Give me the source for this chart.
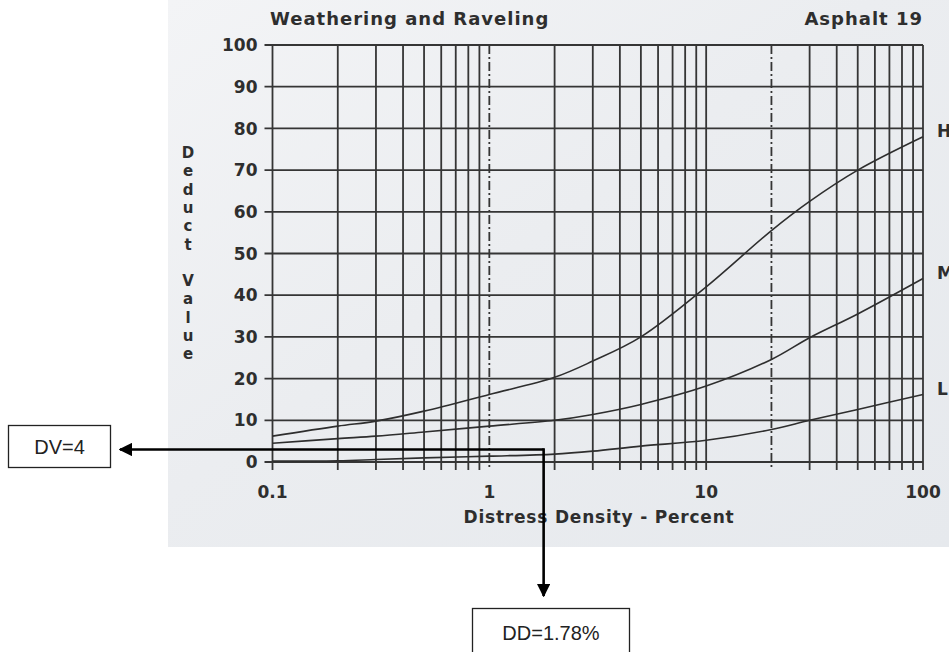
<!DOCTYPE html>
<html>
<head>
<meta charset="utf-8">
<script src="https://cdn.jsdelivr.net/npm/d3@7"></script>
<style>
  body { margin: 0; background: #fff; }
  svg { display: block; }
  .tick-label { font-family: 'DejaVu Sans', sans-serif; font-weight: bold; fill: #2e2e2e; }
</style>
</head>
<body>
<div id="chart"></div>
<script>
// Data
const densities = [0.1, 0.2, 0.3, 0.5, 1, 2, 3, 5, 10, 20, 30, 50, 100]
const highValues = [6.2, 8.6, 9.8, 12.2, 16.2, 20.3, 24.2, 30, 42, 55.5, 62.5, 70, 78]
const mediumValues = [4.5, 5.6, 6.2, 7.2, 8.6, 10, 11.4, 13.8, 18.2, 24.6, 29.8, 35.5, 44]
const lowValues = [0.2, 0.3, 0.6, 1.0, 1.4, 1.9, 2.6, 3.8, 5.2, 7.8, 10, 12.6, 16.2]
const severityLabels = ['H', 'M', 'L']

const xTickValues = [0.1, 1, 10, 100]
const xTickLabels = ['0.1', '1', '10', '100']
const yTickValues = [0, 10, 20, 30, 40, 50, 60, 70, 80, 90, 100]
const dashedDecades = [1, 20]

// annotation
const annotDensity = 1.78
const annotLineValue = 3
const annotDVText = 'DV=4'
const annotDDText = 'DD=1.78%'

const width = 949
const height = 652

const svg = d3
  .select('#chart')
  .append('svg')
  .attr('width', width)
  .attr('height', height)

const defs = svg.append('defs')
const grad = defs
  .append('linearGradient')
  .attr('id', 'paper')
  .attr('x1', 0)
  .attr('y1', 0)
  .attr('x2', 1)
  .attr('y2', 1)
grad.append('stop').attr('offset', '0%').attr('stop-color', '#f3f4f6')
grad.append('stop').attr('offset', '45%').attr('stop-color', '#ebedf0')
grad.append('stop').attr('offset', '100%').attr('stop-color', '#e6e9ed')

defs
  .append('marker')
  .attr('id', 'arrow')
  .attr('viewBox', '0 0 10 10')
  .attr('refX', 9)
  .attr('refY', 5)
  .attr('markerWidth', 5.2)
  .attr('markerHeight', 5.2)
  .attr('markerUnits', 'strokeWidth')
  .attr('orient', 'auto')
  .append('path')
  .attr('d', 'M0,0 L10,5 L0,10 Z')
  .attr('fill', '#000')

// scanned paper area
svg
  .append('rect')
  .attr('x', 168)
  .attr('y', 0)
  .attr('width', width - 168)
  .attr('height', 547)
  .attr('fill', 'url(#paper)')

// scales
const xPositionScale = d3
  .scaleLog()
  .domain([0.1, 100])
  .range([272.5, 923])

const yPositionScale = d3
  .scaleLinear()
  .domain([0, 100])
  .range([462, 45])

const gridColor = '#353535'

// vertical grid lines (log minor ticks)
const xGridValues = []
for (let dec = 0.1; dec < 100; dec *= 10) {
  for (let k = 1; k <= 9; k++) xGridValues.push(+(dec * k).toPrecision(3))
}
xGridValues.push(100)

svg
  .append('g')
  .selectAll('line')
  .data(xGridValues)
  .enter()
  .append('line')
  .attr('x1', d => xPositionScale(d))
  .attr('x2', d => xPositionScale(d))
  .attr('y1', yPositionScale(100))
  .attr('y2', yPositionScale(0) + 8)
  .attr('stroke', gridColor)
  .attr('stroke-width', 1.8)
  .attr('stroke-dasharray', d => (dashedDecades.includes(d) ? '9,3,2,3' : null))

// horizontal grid lines
svg
  .append('g')
  .selectAll('line')
  .data(yTickValues)
  .enter()
  .append('line')
  .attr('x1', xPositionScale(0.1) - 8)
  .attr('x2', xPositionScale(100))
  .attr('y1', d => yPositionScale(d))
  .attr('y2', d => yPositionScale(d))
  .attr('stroke', gridColor)
  .attr('stroke-width', 1.8)

// y tick labels
svg
  .append('g')
  .selectAll('text')
  .data(yTickValues)
  .enter()
  .append('text')
  .attr('class', 'tick-label')
  .attr('x', xPositionScale(0.1) - 15)
  .attr('y', d => yPositionScale(d))
  .attr('dy', '0.36em')
  .attr('text-anchor', 'end')
  .attr('font-size', 17)
  .text(d => d)

// x tick labels
svg
  .append('g')
  .selectAll('text')
  .data(xTickValues)
  .enter()
  .append('text')
  .attr('class', 'tick-label')
  .attr('x', d => xPositionScale(d))
  .attr('y', 498)
  .attr('text-anchor', 'middle')
  .attr('font-size', 17)
  .text((d, i) => xTickLabels[i])

// curves
const series = [highValues, mediumValues, lowValues]
const line = d3
  .line()
  .x((d, i) => xPositionScale(densities[i]))
  .y(d => yPositionScale(d))
  .curve(d3.curveBasis)

const smooth = d3
  .line()
  .x((d, i) => xPositionScale(densities[i]))
  .y(d => yPositionScale(d))
  .curve(d3.curveCatmullRom.alpha(0.5))

svg
  .append('g')
  .selectAll('path')
  .data(series)
  .enter()
  .append('path')
  .attr('d', d => smooth(d))
  .attr('fill', 'none')
  .attr('stroke', '#2e2e2e')
  .attr('stroke-width', 1.6)

// curve labels
svg
  .append('g')
  .selectAll('text')
  .data(series)
  .enter()
  .append('text')
  .attr('class', 'tick-label')
  .attr('x', 937)
  .attr('y', d => yPositionScale(d[d.length - 1]) - 6)
  .attr('dy', '0.36em')
  .attr('font-size', 17)
  .text((d, i) => severityLabels[i])

// titles
svg
  .append('text')
  .attr('class', 'tick-label')
  .attr('x', 270)
  .attr('y', 25)
  .attr('font-size', 18)
  .attr('letter-spacing', 1)
  .text('Weathering and Raveling')

svg
  .append('text')
  .attr('class', 'tick-label')
  .attr('x', xPositionScale(100))
  .attr('y', 25)
  .attr('font-size', 18)
  .attr('letter-spacing', 1)
  .attr('text-anchor', 'end')
  .text('Asphalt 19')

svg
  .append('text')
  .attr('class', 'tick-label')
  .attr('x', 599)
  .attr('y', 523)
  .attr('font-size', 17)
  .attr('letter-spacing', 0.8)
  .attr('text-anchor', 'middle')
  .text('Distress Density - Percent')

// stacked y title
const yTitle = 'Deduct Value'.split('')
svg
  .append('g')
  .selectAll('text')
  .data(yTitle)
  .enter()
  .append('text')
  .attr('class', 'tick-label')
  .attr('x', 188)
  .attr('y', (d, i) => 158 + i * 18.3)
  .attr('text-anchor', 'middle')
  .attr('font-size', 15)
  .text(d => d)

// annotation arrows
const cornerX = xPositionScale(annotDensity)
const cornerY = yPositionScale(annotLineValue)

svg
  .append('path')
  .attr('d', `M${cornerX},${cornerY} L120,${cornerY}`)
  .attr('stroke', '#000')
  .attr('stroke-width', 2.6)
  .attr('fill', 'none')
  .attr('marker-end', 'url(#arrow)')

svg
  .append('path')
  .attr('d', `M${cornerX - 1.3},${cornerY} L${cornerX},${cornerY} L${cornerX},596`)
  .attr('stroke', '#000')
  .attr('stroke-width', 2.6)
  .attr('fill', 'none')
  .attr('marker-end', 'url(#arrow)')

// annotation boxes
svg
  .append('rect')
  .attr('x', 8.5)
  .attr('y', 425.5)
  .attr('width', 102)
  .attr('height', 42)
  .attr('fill', '#fff')
  .attr('stroke', '#222')
  .attr('stroke-width', 1.3)

svg
  .append('text')
  .attr('x', 59.5)
  .attr('y', 454)
  .attr('text-anchor', 'middle')
  .attr('font-family', 'Liberation Sans, Arial, sans-serif')
  .attr('font-size', 20)
  .attr('fill', '#222')
  .text(annotDVText)

svg
  .append('rect')
  .attr('x', 472.5)
  .attr('y', 608.5)
  .attr('width', 157)
  .attr('height', 60)
  .attr('fill', '#fff')
  .attr('stroke', '#222')
  .attr('stroke-width', 1.3)

svg
  .append('text')
  .attr('x', 551)
  .attr('y', 640)
  .attr('text-anchor', 'middle')
  .attr('font-family', 'Liberation Sans, Arial, sans-serif')
  .attr('font-size', 20)
  .attr('fill', '#222')
  .text(annotDDText)
</script>
</body>
</html>
